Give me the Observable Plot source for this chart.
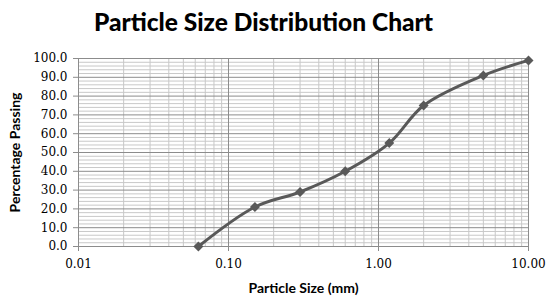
<!DOCTYPE html>
<html>
<head>
<meta charset="utf-8">
<script src="https://cdn.jsdelivr.net/npm/d3@7"></script>
<script src="https://cdn.jsdelivr.net/npm/@observablehq/plot@0.6"></script>
<style>
  body { margin: 0; background: #fff; }
  #title { width: 527px; padding-right: 20px; height: 40px; line-height: 44px; text-align: center;
    font-family: Lato, "Open Sans", sans-serif; font-weight: 900; font-size: 24.5px; color: #000; }
  #chart svg text { font-family: "DejaVu Serif", serif !important; }
  #chart svg g[aria-label="x-axis label"] text, #chart svg g[aria-label="y-axis label"] text {
    font-family: Lato, "Open Sans", sans-serif !important; font-weight: bold; font-size: 14px; }
</style>
</head>
<body>
<div id="title">Particle Size Distribution Chart</div>
<div id="chart"></div>
<script>
const sizes = [0.063, 0.15, 0.3, 0.6, 1.18, 2, 5, 10];
const passing = [0, 21, 29, 40, 55, 75, 91, 99];
const xTicks = [0.01, 0.1, 1, 10];
const yTicks = [0, 10, 20, 30, 40, 50, 60, 70, 80, 90, 100];
const yMinor = [2, 4, 6, 8, 12, 14, 16, 18, 22, 24, 26, 28, 32, 34, 36, 38, 42, 44, 46, 48, 52, 54, 56, 58, 62, 64, 66, 68, 72, 74, 76, 78, 82, 84, 86, 88, 92, 94, 96, 98];
const xMinor = [0.02,0.03,0.04,0.05,0.06,0.07,0.08,0.09,0.2,0.3,0.4,0.5,0.6,0.7,0.8,0.9,2,3,4,5,6,7,8,9];

const data = sizes.map((s, i) => ({size: s, pct: passing[i]}));

const chart = Plot.plot({
  width: 547,
  height: 256,
  marginTop: 18,
  marginBottom: 50,
  marginLeft: 78,
  marginRight: 19,
  style: {fontFamily: "DejaVu Serif, serif", fontSize: "12px", color: "#000"},
  x: {type: "log", domain: [0.01, 10]},
  y: {domain: [0, 100]},
  marks: [
    Plot.gridY(yMinor, {stroke: "#c8c8c8", strokeOpacity: 1}),
    Plot.gridX(xMinor, {stroke: "#c8c8c8", strokeOpacity: 1}),
    Plot.gridY(yTicks, {stroke: "#8c8c8c", strokeOpacity: 1}),
    Plot.gridX(xTicks, {stroke: "#8c8c8c", strokeOpacity: 1}),
    Plot.axisX({ticks: xTicks, tickFormat: d3.format(".2f"), tickSize: 5, tickPadding: 8, stroke: "#8c8c8c",
      label: "Particle Size (mm)", labelAnchor: "center", labelArrow: "none", labelOffset: 46, fontSize: 12}),
    Plot.axisY({ticks: yTicks, tickFormat: d3.format(".1f"), tickSize: 5, tickPadding: 6, stroke: "#8c8c8c",
      label: "Percentage Passing", labelAnchor: "center", labelArrow: "none", labelOffset: 68, fontSize: 12}),
    Plot.line(data, {x: "size", y: "pct", stroke: "#595959", strokeWidth: 3, curve: "catmull-rom"}),
    Plot.dot(data, {x: "size", y: "pct", symbol: "diamond2", r: 4.5, fill: "#595959", stroke: "none"})
  ]
});
document.getElementById("chart").appendChild(chart);
</script>
</body>
</html>
